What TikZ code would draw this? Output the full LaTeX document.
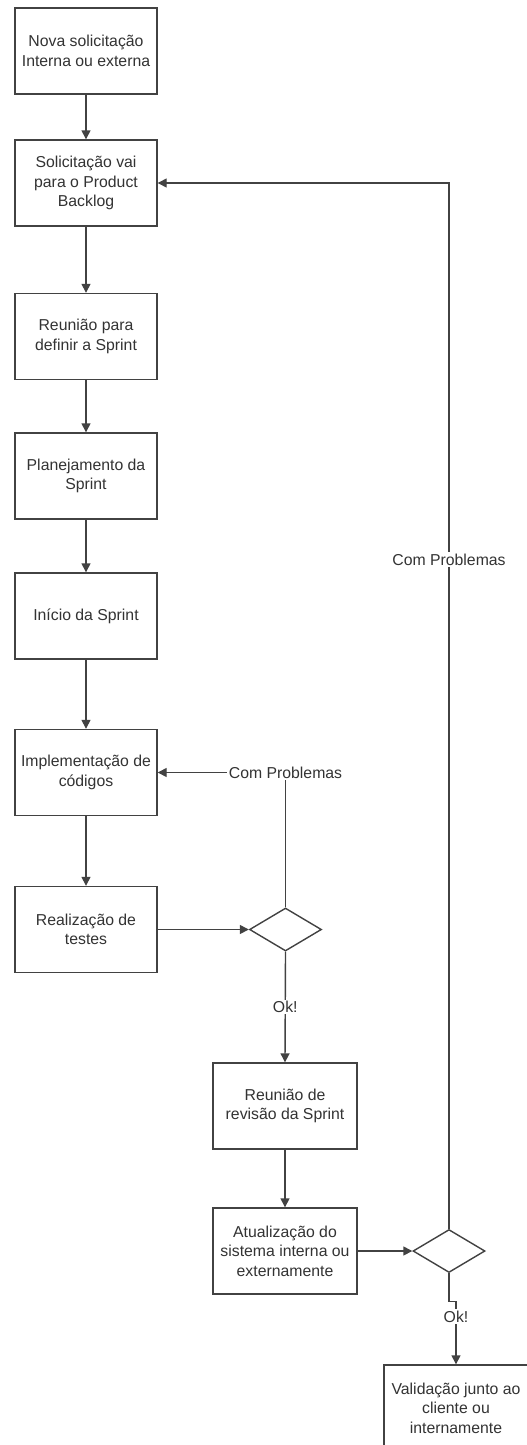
\documentclass[tikz,border=0pt]{standalone}
\usepackage{fontspec}
\setmainfont{Liberation Sans}
\usetikzlibrary{shapes.geometric,arrows.meta}
\definecolor{inkgray}{HTML}{333333}
\definecolor{linegray}{HTML}{424242}
\begin{document}
\begin{tikzpicture}[x=1pt,y=-1pt,
  stepbox/.style={draw=linegray,line width=1.4pt,minimum width=142pt,minimum height=86pt,
    inner sep=0pt,align=center,text=inkgray,font=\fontsize{15.8}{19.5}\selectfont},
  choice/.style={draw=linegray,line width=1.4pt,shape=diamond,minimum width=72pt,
    minimum height=43pt,inner sep=0pt},
  flow/.style={draw=linegray,line width=1.4pt,-{Triangle[length=9pt,width=9pt]}},
  tag/.style={fill=white,inner sep=1.5pt,text=inkgray,font=\fontsize{15.8}{19.5}\selectfont}]
\useasboundingbox (0,0) rectangle (527,1445);
\clip (0,0) rectangle (527,1445);
\fill[white] (0,0) rectangle (527,1445);

% main column
\node[stepbox] (nova)  at (86,51)    {Nova solicitação\\Interna ou externa};
\node[stepbox] (back)  at (86,183)   {Solicitação vai\\para o Product\\Backlog};
\node[stepbox] (reun)  at (86,336.5) {Reunião para\\definir a Sprint};
\node[stepbox] (plan)  at (86,476)   {Planejamento da\\Sprint};
\node[stepbox] (ini)   at (86,616)   {Início da Sprint};
\node[stepbox] (impl)  at (86,772.5) {Implementação de\\códigos};
\node[stepbox] (test)  at (86,929.5) {Realização de\\testes};

% review and release
\node[choice] (d1) at (285.5,929.5) {};
\node[stepbox,minimum width=144pt] (rev) at (285,1106) {Reunião de\\revisão da Sprint};
\node[stepbox,minimum width=144pt] (atu) at (285,1251) {Atualização do\\sistema interna ou\\externamente};
\node[choice] (d2) at (449,1251) {};
% the last box runs past the right edge of the page
\node[stepbox,minimum width=160pt] (val) at (464,1408) {\hspace*{-16pt}Validação junto ao\\\hspace*{-16pt}cliente ou\\\hspace*{-16pt}internamente};

% connectors
\draw[flow] (nova) -- (back);
\draw[flow] (back) -- (reun);
\draw[flow] (reun) -- (plan);
\draw[flow] (plan) -- (ini);
\draw[flow] (ini) -- (impl);
\draw[flow] (impl) -- (test);
\draw[flow] (test) -- (d1);
\draw[flow] (d1.north) |- (impl.east) node[tag,pos=0.5] {Com Problemas};
\draw[flow] (d1.south) -- (rev.north) node[tag,pos=0.5] {Ok!};
\draw[flow] (rev) -- (atu);
\draw[flow] (atu) -- (d2);
\draw[flow] (d2.north) |- (back.east) node[tag,pos=0.32] {Com Problemas};
\draw[flow] (d2.south) -- ++(0,28) -| ([xshift=-8pt]val.north) node[tag,pos=0.62] {Ok!};
\end{tikzpicture}
\end{document}
